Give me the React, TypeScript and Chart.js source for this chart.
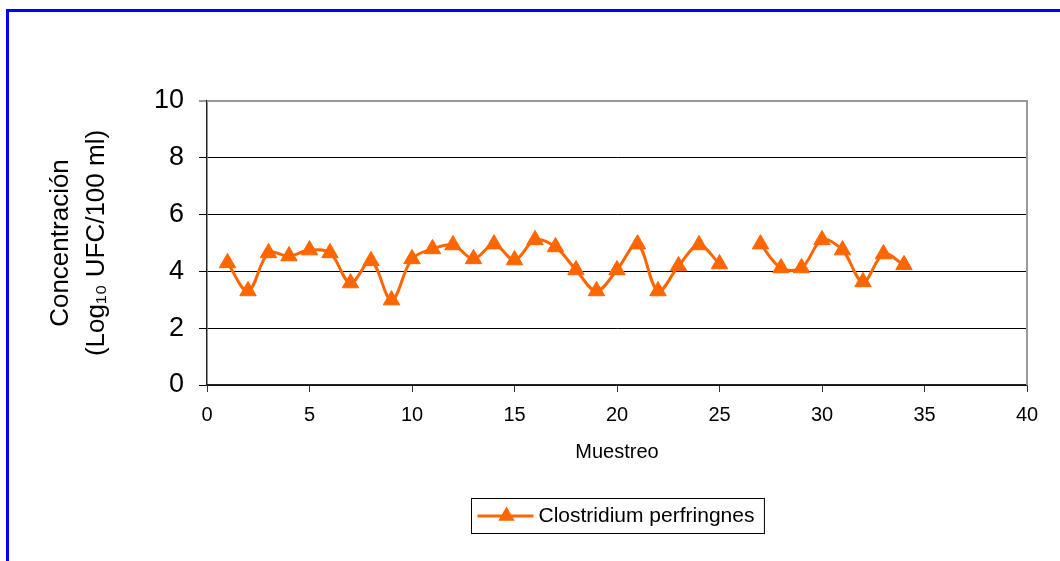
import { useEffect, useRef } from "react";
import { Chart, registerables } from "chart.js";

Chart.register(...registerables);

// ---- data ----
const samples: number[] = [
  1, 2, 3, 4, 5, 6, 7, 8, 9, 10, 11, 12, 13, 14, 15, 16, 17,
  18, 19, 20, 21, 22, 23, 24, 25, 26, 27, 28, 29, 30, 31, 32, 33, 34,
];
const concentration: (number | null)[] = [
  4.3, 3.31, 4.65, 4.54, 4.75, 4.65, 3.59, 4.37, 2.99, 4.44, 4.79, 4.93, 4.44,
  4.96, 4.4, 5.11, 4.86, 4.05, 3.31, 4.05, 4.96, 3.31, 4.19, 4.93, 4.26, null,
  4.96, 4.12, 4.12, 5.11, 4.75, 3.63, 4.61, 4.23,
];
const seriesLabel = "Clostridium perfringnes";
const xAxisTitle = "Muestreo";
const yAxisTitle = ["Concentración", "(Log\u2081\u2080 UFC/100 ml)"];
const xMin = 0;
const xMax = 40;
const xStep = 5;
const yMin = 0;
const yMax = 10;
const yStep = 2;

const ORANGE = "#FF6600";
const FONT = "'Liberation Sans', Arial, sans-serif";

const framePlugin = {
  id: "frame",
  beforeDraw(chart: any) {
    const { ctx, width, height } = chart;
    ctx.save();
    ctx.fillStyle = "#ffffff";
    ctx.fillRect(0, 0, width, height);
    ctx.fillStyle = "#0000ff";
    ctx.fillRect(6, 9, 3, height - 9);
    ctx.fillRect(6, 9, width - 6, 3);
    ctx.restore();
  },
};

const plotBorderPlugin = {
  id: "plotBorder",
  beforeDatasetsDraw(chart: any) {
    const { ctx, chartArea } = chart;
    ctx.save();
    ctx.strokeStyle = "#9a9a9a";
    ctx.lineWidth = 2;
    ctx.beginPath();
    ctx.moveTo(chartArea.left, chartArea.top);
    ctx.lineTo(chartArea.right, chartArea.top);
    ctx.lineTo(chartArea.right, chartArea.bottom);
    ctx.stroke();
    ctx.restore();
  },
};

const boxLegendPlugin = {
  id: "boxLegend",
  afterDraw(chart: any) {
    const { ctx, chartArea } = chart;
    const ds = chart.data.datasets[0];
    ctx.save();
    ctx.font = `21px ${FONT}`;
    const tw = ctx.measureText(ds.label).width;
    const boxW = 6 + 56 + 5 + tw + 10;
    const boxH = 35;
    const cx = (chartArea.left + chartArea.right) / 2;
    const left = Math.round(cx - boxW / 2) + 0.5;
    const top = 498.5;
    ctx.strokeStyle = "#000";
    ctx.lineWidth = 1;
    ctx.strokeRect(left, top, boxW, boxH);
    const my = top + boxH / 2;
    ctx.strokeStyle = ds.borderColor;
    ctx.lineWidth = 3;
    ctx.beginPath();
    ctx.moveTo(left + 6, my);
    ctx.lineTo(left + 62, my);
    ctx.stroke();
    // triangle marker
    const r = 9.5;
    const px = left + 35;
    ctx.fillStyle = ds.pointBackgroundColor;
    ctx.beginPath();
    ctx.moveTo(px, my - r);
    ctx.lineTo(px + r * 0.866, my + r / 2);
    ctx.lineTo(px - r * 0.866, my + r / 2);
    ctx.closePath();
    ctx.fill();
    ctx.fillStyle = "#000";
    ctx.textBaseline = "middle";
    ctx.textAlign = "left";
    ctx.fillText(ds.label, left + 67, my);
    ctx.restore();
  },
};

export default function App() {
  const canvasRef = useRef<HTMLCanvasElement | null>(null);

  useEffect(() => {
    if (!canvasRef.current) return;
    const points = samples.map((s, i) => ({ x: s, y: concentration[i] }));
    const chart = new Chart(canvasRef.current, {
      type: "line",
      data: {
        datasets: [
          {
            label: seriesLabel,
            data: points as any,
            borderColor: ORANGE,
            backgroundColor: ORANGE,
            pointBackgroundColor: ORANGE,
            pointBorderColor: ORANGE,
            pointBorderWidth: 1,
            borderWidth: 3,
            pointStyle: "triangle",
            pointRadius: 9.5,
            tension: 0.35,
            spanGaps: false,
            fill: false,
          },
        ],
      },
      options: {
        responsive: false,
        animation: false,
        devicePixelRatio: 1,
        layout: { padding: { top: 101, right: 33, left: 0, bottom: 0 } },
        plugins: {
          legend: { display: false },
          tooltip: { enabled: false },
        },
        scales: {
          x: {
            type: "linear",
            min: xMin,
            max: xMax,
            afterFit(scale: any) {
              scale.height = 176;
            },
            ticks: {
              stepSize: xStep,
              color: "#000",
              font: { family: FONT, size: 20 },
              padding: 11,
              maxRotation: 0,
            },
            grid: {
              drawOnChartArea: false,
              drawTicks: true,
              tickLength: 7,
              color: "#333",
            },
            border: { color: "#222", width: 1.5 },
            title: {
              display: true,
              text: xAxisTitle,
              color: "#000",
              font: { family: FONT, size: 20 },
              padding: { top: 0, bottom: 97 },
            },
          },
          y: {
            min: yMin,
            max: yMax,
            afterFit(scale: any) {
              scale.width = 207;
            },
            ticks: {
              stepSize: yStep,
              color: "#000",
              font: { family: FONT, size: 27 },
              padding: 15,
            },
            grid: {
              color: (c: any) => (c.tick && c.tick.value === yMax ? "#9a9a9a" : "#000"),
              lineWidth: (c: any) => (c.tick && c.tick.value === yMax ? 2 : 1),
              tickLength: 8,
            },
            border: { color: "#222", width: 1.5 },
            title: {
              display: true,
              text: yAxisTitle,
              color: "#000",
              font: { family: FONT, size: 26, lineHeight: 1.38 },
              padding: { top: 43, bottom: 0 },
            },
          },
        },
      },
      plugins: [framePlugin, plotBorderPlugin, boxLegendPlugin],
    });
    return () => chart.destroy();
  }, []);

  return (
    <div style={{ position: "absolute", left: 0, top: 0, width: 1060, height: 561 }}>
      <canvas ref={canvasRef} width={1060} height={561} />
    </div>
  );
}
